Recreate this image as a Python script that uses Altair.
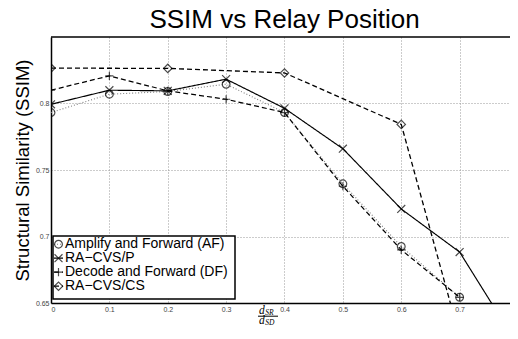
import altair as alt
import pandas as pd

series = ["Amplify and Forward (AF)", "RA\u2212CVS/P", "Decode and Forward (DF)", "RA\u2212CVS/CS"]

af_x = [0.0, 0.1, 0.2, 0.3, 0.4, 0.5, 0.6, 0.7]
af_y = [0.7932, 0.8070, 0.8090, 0.8145, 0.7932, 0.7396, 0.6925, 0.6543]

p_x = [0.0, 0.1, 0.2, 0.3, 0.4, 0.5, 0.6, 0.7, 0.8]
p_y = [0.7994, 0.8100, 0.8095, 0.8183, 0.7964, 0.7660, 0.7207, 0.6883, 0.6180]

df_x = [0.0, 0.1, 0.2, 0.3, 0.4, 0.5, 0.6, 0.7]
df_y = [0.8100, 0.8208, 0.8095, 0.8032, 0.7932, 0.7378, 0.6900, 0.6543]

cs_x = [0.0, 0.2, 0.4, 0.6, 0.8]
cs_y = [0.8266, 0.8264, 0.8230, 0.7843, 0.4650]

x_ticks = [0.0, 0.1, 0.2, 0.3, 0.4, 0.5, 0.6, 0.7, 0.8]
y_ticks = [0.65, 0.70, 0.75, 0.80]

rows = []
for name, xs, ys in zip(series, [af_x, p_x, df_x, cs_x], [af_y, p_y, df_y, cs_y]):
    for xv, yv in zip(xs, ys):
        rows.append({"series": name, "x": xv, "y": yv})
data = pd.DataFrame(rows)

X_PATH = "M-1,-1L1,1M-1,1L1,-1"
PLUS_PATH = "M-1,0L1,0M0,-1L0,1"

# the original figure is cropped at the right edge, just before x = 0.8
W, H = 459, 266
X_MAX = 0.7863

color_scale = alt.Scale(domain=series, range=["#7f7f7f", "black", "black", "black"])
dash_scale = alt.Scale(domain=series, range=[[1, 2], [1, 0], [5, 3], [5, 3]])
width_scale = alt.Scale(domain=series, range=[1.1, 1.3, 1.2, 1.2])
shape_scale = alt.Scale(domain=series, range=["circle", X_PATH, PLUS_PATH, "diamond"])
size_scale = alt.Scale(domain=series, range=[60, 70, 90, 80])

xenc = alt.X("x:Q", scale=alt.Scale(domain=[0, X_MAX], nice=False),
             axis=alt.Axis(values=x_ticks, format=".1~f", title=None, labelFlush=True,
                           grid=True, ticks=False, labelPadding=2))
yenc = alt.Y("y:Q", scale=alt.Scale(domain=[0.65, 0.85], nice=False, zero=False),
             axis=alt.Axis(values=y_ticks, format=".2~f", title="Structural Similarity (SSIM)",
                           grid=True, ticks=False, labelPadding=2,
                           titleX=-29, titleY=H / 2, titleAngle=270, titleAlign="center",
                           titleBaseline="middle"))

lines = alt.Chart(data).mark_line(clip=True).encode(
    x=xenc, y=yenc,
    color=alt.Color("series:N", scale=color_scale, legend=None),
    strokeDash=alt.StrokeDash("series:N", scale=dash_scale, legend=None),
    strokeWidth=alt.StrokeWidth("series:N", scale=width_scale, legend=None),
    order="x:Q",
)

points = alt.Chart(data).mark_point(clip=True, filled=False, color="black", strokeWidth=1.2).encode(
    x="x:Q", y="y:Q",
    shape=alt.Shape("series:N", scale=shape_scale, legend=None),
    size=alt.Size("series:N", scale=size_scale, legend=None),
)

one = pd.DataFrame({"a": [0]})
top_border = alt.Chart(one).mark_rule(color="black", strokeWidth=1.5).encode(
    x=alt.value(0), x2=alt.value(W), y=alt.value(0)
)

leg = pd.DataFrame({"series": series, "row": [0, 1, 2, 3]})
box = alt.Chart(one).mark_rect(fill="white", stroke="black", strokeWidth=1.5).encode(
    x=alt.value(2), x2=alt.value(184), y=alt.value(199), y2=alt.value(262)
)
leg_base = alt.Chart(leg).transform_calculate(ly="207.2 + datum.row * 14")
leg_lines = leg_base.mark_rule().encode(
    x=alt.value(3), x2=alt.value(12), y=alt.Y("ly:Q", scale=None),
    color=alt.Color("series:N", scale=color_scale, legend=None),
    strokeDash=alt.StrokeDash("series:N", scale=dash_scale, legend=None),
    strokeWidth=alt.StrokeWidth("series:N", scale=width_scale, legend=None),
)
leg_pts = leg_base.mark_point(filled=False, color="black", strokeWidth=1.2).encode(
    x=alt.value(7.5), y=alt.Y("ly:Q", scale=None),
    shape=alt.Shape("series:N", scale=shape_scale, legend=None),
    size=alt.Size("series:N", scale=size_scale, legend=None),
)
leg_txt = leg_base.mark_text(align="left", baseline="middle", fontSize=14,
                             font="Liberation Sans", color="black").encode(
    x=alt.value(14), y=alt.Y("ly:Q", scale=None), text="series:N"
)

# x-axis title drawn as a stacked fraction d_SR / d_SD
def frac_text(t, xpos, ypos, fs):
    return alt.Chart(pd.DataFrame({"t": [t]})).mark_text(
        align="left", baseline="alphabetic", font="Liberation Serif", fontStyle="italic",
        fontSize=fs, color="black").encode(x=alt.value(xpos), y=alt.value(ypos), text="t:N")

FX = 208
num_d = frac_text("d", FX, 276.5, 11.5)
num_s = frac_text("SR", FX + 6.3, 278, 7.5)
den_d = frac_text("d", FX, 287.3, 11.5)
den_s = frac_text("SD", FX + 6.3, 287.8, 7.5)
frac_line = alt.Chart(one).mark_rule(color="black", strokeWidth=1).encode(
    x=alt.value(FX - 1), x2=alt.value(FX + 19), y=alt.value(279.2)
)

chart = alt.layer(lines, points, top_border, box, leg_lines, leg_pts, leg_txt,
                  num_d, num_s, den_d, den_s, frac_line).properties(
    width=W, height=H,
    title=alt.TitleParams("SSIM vs Relay Position", fontSize=26, font="Liberation Sans",
                          fontWeight="normal", anchor="middle", frame="group", offset=3,
                          dx=4, color="black"),
    autosize=alt.AutoSizeParams(type="none"),
    padding={"left": 43, "top": 29, "right": 0, "bottom": 24},
).configure_view(stroke=None).configure_axis(
    labelFont="Liberation Sans", labelFontSize=7, labelColor="#444",
    titleFont="Liberation Sans", titleFontSize=18.5, titleFontWeight="normal", titleColor="black",
    gridColor="#999", gridDash=[1, 2], gridWidth=1, domainColor="black", domainWidth=1.5,
)

chart.save("out.html", embed_options={"renderer": "svg", "actions": False})
